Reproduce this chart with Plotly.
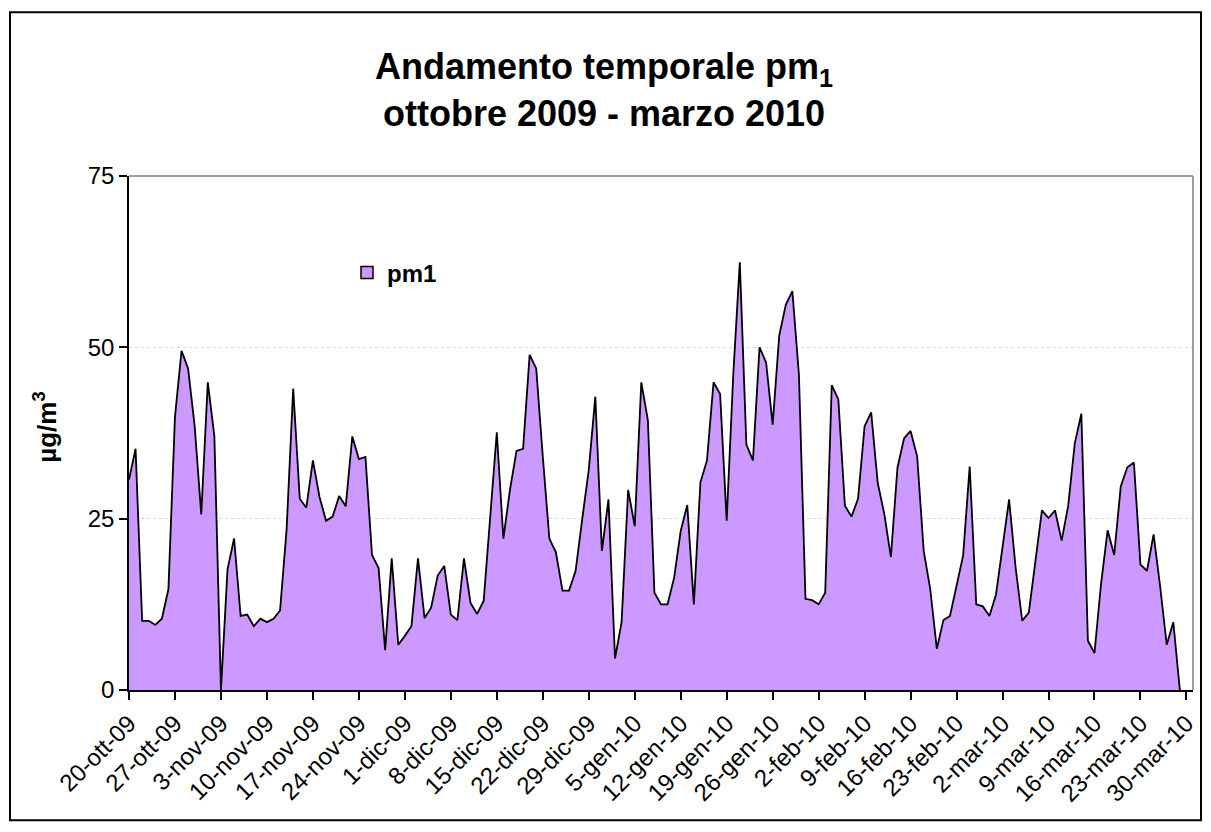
import pandas as pd
import plotly.graph_objects as go

# ---- data ----
start_date = "2009-10-20"
pm1 = [30.7, 35.2, 10.1, 10.1, 9.5, 10.4, 14.7, 39.9, 49.5, 46.9,
       38.5, 25.6, 44.9, 37.0, 0, 17.6, 22.1, 10.8, 11.0, 9.3,
       10.4, 9.9, 10.4, 11.6, 23.5, 44.0, 27.9, 26.6, 33.5, 28.2,
       24.7, 25.3, 28.3, 26.8, 37.0, 33.7, 34.0, 19.7, 17.8, 5.8,
       19.2, 6.6, 7.9, 9.3, 19.2, 10.5, 12.0, 16.7, 18.1, 11.0,
       10.2, 19.2, 12.7, 11.1, 13.0, 25.3, 37.6, 22.1, 29.2, 34.9,
       35.2, 48.9, 46.9, 34.1, 22.1, 20.1, 14.5, 14.5, 17.4, 24.9,
       32.1, 42.8, 20.3, 27.8, 4.6, 9.9, 29.2, 23.9, 44.9, 39.4,
       14.2, 12.5, 12.5, 16.4, 23.2, 27.0, 12.5, 30.3, 33.5, 44.9,
       43.2, 24.7, 46.0, 62.4, 35.8, 33.5, 50.0, 47.8, 38.7, 51.7,
       56.2, 58.2, 46.0, 13.3, 13.1, 12.5, 14.2, 44.5, 42.4, 26.9,
       25.3, 27.9, 38.5, 40.5, 30.2, 25.7, 19.4, 32.4, 36.7, 37.8,
       34.1, 20.3, 14.7, 6.0, 10.2, 10.8, 15.0, 19.6, 32.6, 12.5,
       12.2, 10.8, 13.9, 21.0, 27.8, 17.8, 10.1, 11.3, 19.0, 26.2,
       25.1, 26.2, 21.8, 26.9, 36.0, 40.3, 7.2, 5.4, 15.5, 23.3,
       19.7, 29.7, 32.5, 33.2, 18.3, 17.4, 22.7, 15.1, 6.6, 9.9,
       0]
dates = pd.date_range(start_date, periods=len(pm1), freq="D")

tick_dates = ["2009-10-20", "2009-10-27", "2009-11-03", "2009-11-10", "2009-11-17",
              "2009-11-24", "2009-12-01", "2009-12-08", "2009-12-15", "2009-12-22",
              "2009-12-29", "2010-01-05", "2010-01-12", "2010-01-19", "2010-01-26",
              "2010-02-02", "2010-02-09", "2010-02-16", "2010-02-23", "2010-03-02",
              "2010-03-09", "2010-03-16", "2010-03-23", "2010-03-30"]
tick_labels = ["20-ott-09", "27-ott-09", "3-nov-09", "10-nov-09", "17-nov-09",
               "24-nov-09", "1-dic-09", "8-dic-09", "15-dic-09", "22-dic-09",
               "29-dic-09", "5-gen-10", "12-gen-10", "19-gen-10", "26-gen-10",
               "2-feb-10", "9-feb-10", "16-feb-10", "23-feb-10", "2-mar-10",
               "9-mar-10", "16-mar-10", "23-mar-10", "30-mar-10"]
y_ticks = [0, 25, 50, 75]

FONT = "Arial, 'Liberation Sans', sans-serif"
FILL = "#CC99FF"

fig = go.Figure()
fig.add_trace(go.Scatter(
    x=dates, y=pm1, mode="lines", fill="tozeroy",
    fillcolor=FILL, line=dict(color="black", width=1.8),
    showlegend=False, hoverinfo="x+y"))
# legend entry
fig.add_trace(go.Bar(
    x=[None], y=[None], name="pm1",
    marker=dict(color=FILL, line=dict(color="black", width=1.5)),
    showlegend=True))

# page body margin offset (8px) compensation
OFF = 8
W, H = 1211 - OFF, 832 - OFF
PW, PH = 1064, 514.5
L, T = 129 - OFF, 176 - OFF
R = W - L - PW
B = H - T - PH

def px(x):  # page x -> paper
    return (x - OFF - L) / PW

def py(y):  # page y -> paper
    return (H - B - (y - OFF)) / PH

fig.update_layout(
    width=W, height=H, autosize=False,
    margin=dict(l=L, r=R, t=T, b=B, pad=0),
    paper_bgcolor="white", plot_bgcolor="white",
    font=dict(family=FONT, color="black"),
    showlegend=True,
    legend=dict(x=px(347), y=py(273), xanchor="left", yanchor="middle",
                bgcolor="rgba(0,0,0,0)", borderwidth=0,
                font=dict(family=FONT, size=24, color="black", weight="bold")),
)
fig.update_xaxes(
    type="date", range=["2009-10-20", "2010-03-31"],
    tickvals=tick_dates, ticktext=tick_labels, tickangle=-45,
    tickfont=dict(family=FONT, size=24, color="black"),
    showgrid=False, zeroline=False,
    showline=True, linecolor="black", linewidth=1.5,
    ticks="outside", ticklen=8, tickwidth=1.5, tickcolor="black",
)
fig.update_yaxes(
    range=[0, 75], tickvals=y_ticks, ticktext=[str(v) for v in y_ticks],
    tickfont=dict(family=FONT, size=24, color="black"),
    showgrid=True, gridcolor="#D9D9D9", griddash="dot", gridwidth=1,
    zeroline=False,
    showline=True, linecolor="black", linewidth=1.5,
    ticks="outside", ticklen=8, tickwidth=1.5, tickcolor="black",
)

shapes = [
    dict(type="line", xref="paper", yref="paper", x0=0, x1=1, y0=1, y1=1,
         line=dict(color="#808080", width=1.5), layer="above"),
    dict(type="line", xref="paper", yref="paper", x0=1, x1=1, y0=0, y1=1,
         line=dict(color="#808080", width=1.5), layer="above"),
    dict(type="rect", xref="paper", yref="paper",
         x0=px(10), x1=px(1201), y0=py(821), y1=py(12),
         line=dict(color="black", width=2), fillcolor="rgba(0,0,0,0)", layer="above"),
]
fig.update_layout(shapes=shapes)

annotations = [
    dict(text="<b>Andamento temporale pm<sub>1</sub><br>ottobre 2009 - marzo 2010</b>",
         x=px(604), y=py(90),
         xref="paper", yref="paper", xanchor="center", yanchor="middle",
         showarrow=False, font=dict(family=FONT, size=36, color="black")),
    dict(text="<b>µg/m<sup>3</sup></b>", x=px(46), y=py(428),
         xref="paper", yref="paper", xanchor="center", yanchor="middle",
         textangle=-90, showarrow=False,
         font=dict(family=FONT, size=26, color="black")),
]
fig.update_layout(annotations=annotations)

fig.write_html("out.html")
